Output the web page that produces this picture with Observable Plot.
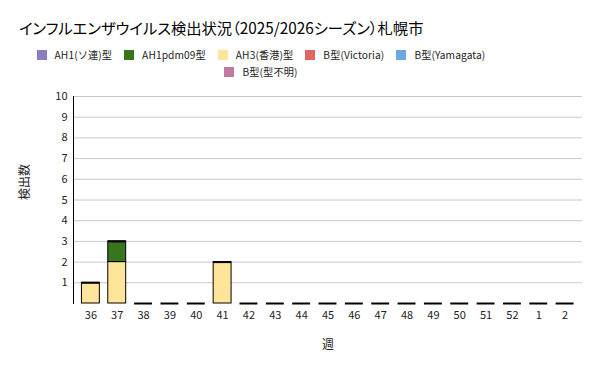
<!DOCTYPE html>
<html><head><meta charset="utf-8">
<script src="https://cdn.jsdelivr.net/npm/d3@7"></script>
<script src="https://cdn.jsdelivr.net/npm/@observablehq/plot@0.6"></script>
<style>
body{margin:0;background:#fff;font-family:"Noto Sans CJK JP",sans-serif;}
#wrap{width:601px;height:371px;position:relative;overflow:hidden;}
#title{position:absolute;left:19px;top:16px;font-size:15.3px;color:#000;white-space:nowrap;font-feature-settings:"palt";}
#legend{position:absolute;left:0;top:46px;width:522px;text-align:center;font-size:10.2px;letter-spacing:0.1px;line-height:17px;color:#222;}
.li{display:inline-block;margin:0 6px;white-space:nowrap;}
.sw{display:inline-block;width:10px;height:10px;vertical-align:-1px;margin-right:8px;}
#chart{position:absolute;left:0;top:85px;}
</style></head><body><div id="wrap">
<div id="title">インフルエンザウイルス検出状況（2025/2026シーズン）札幌市</div>
<div id="legend"></div>
<div id="chart"></div>
</div>
<script>
const weeks = ["36","37","38","39","40","41","42","43","44","45","46","47","48","49","50","51","52","1","2"];
const seriesNames = ["AH1(ソ連)型","AH1pdm09型","AH3(香港)型","B型(Victoria)","B型(Yamagata)","B型(型不明)"];
const seriesColors = ["#8e7cc3","#38761d","#ffe599","#e06666","#6fa8dc","#c27ba0"];
const ah1 =      [0,0,0,0,0,0,0,0,0,0,0,0,0,0,0,0,0,0,0];
const ah1pdm09 = [0,1,0,0,0,0,0,0,0,0,0,0,0,0,0,0,0,0,0];
const ah3 =      [1,2,0,0,0,2,0,0,0,0,0,0,0,0,0,0,0,0,0];
const bVic =     [0,0,0,0,0,0,0,0,0,0,0,0,0,0,0,0,0,0,0];
const bYam =     [0,0,0,0,0,0,0,0,0,0,0,0,0,0,0,0,0,0,0];
const bUnk =     [0,0,0,0,0,0,0,0,0,0,0,0,0,0,0,0,0,0,0];
const yTicks = [1,2,3,4,5,6,7,8,9,10];

const allSeries = [ah1, ah1pdm09, ah3, bVic, bYam, bUnk];
const leg = document.getElementById("legend");
seriesNames.forEach((n,i)=>{
  const s = document.createElement("span"); s.className="li";
  s.innerHTML = `<span class="sw" style="background:${seriesColors[i]}"></span>${n}`;
  leg.appendChild(s);
  if (i===4) leg.appendChild(document.createElement("br"));
});

const stackOrder = [2,1,0,3,4,5];
const rows = [];
weeks.forEach((w,j)=>{
  stackOrder.forEach(i=>{
    if (allSeries[i][j] > 0) rows.push({week:w, series:seriesNames[i], value:allSeries[i][j]});
  });
});
const totals = weeks.map((w,j)=>({week:w, total: d3.sum(allSeries, s=>s[j])}));

const plot = Plot.plot({
  width: 601, height: 280,
  marginLeft: 73, marginRight: 19, marginTop: 11, marginBottom: 62,
  style: {fontFamily: "'Noto Sans CJK JP', sans-serif", fontSize: "11px", color:"#222"},
  x: {domain: weeks, padding: 0.32, round: false, label: null},
  y: {domain: [0,10], label: null},
  color: {domain: seriesNames, range: seriesColors},
  marks: [
    Plot.gridY(yTicks, {stroke:"#c8c8c8", strokeOpacity:1}),
    Plot.barY(rows, {x:"week", y:"value", fill:"series", stroke:"#000", strokeWidth:1, order: null}),
    Plot.tickY(totals, {x:"week", y:"total", stroke:"#000", strokeWidth:2}),
    Plot.frame({anchor:"left", stroke:"#000"}),
    Plot.axisX({tickSize:0, tickPadding:8, label:null}),
    Plot.axisY(yTicks, {tickSize:0, tickPadding:6, label:null}),
    Plot.text(["週"], {frameAnchor:"bottom", dy:45, fontSize:12}),
    Plot.text(["検出数"], {frameAnchor:"left", dx:-48, rotate:-90, fontSize:12})
  ]
});
document.getElementById("chart").appendChild(plot);
</script></body></html>
